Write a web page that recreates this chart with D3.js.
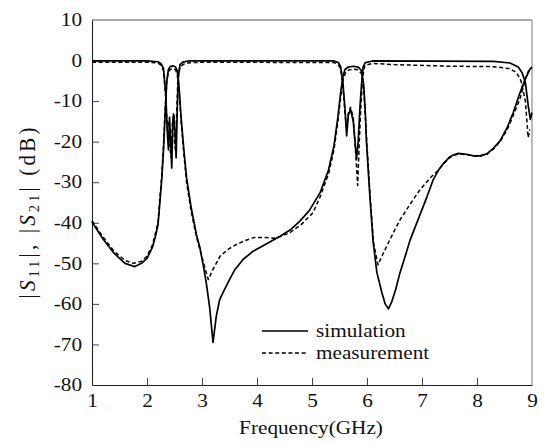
<!DOCTYPE html>
<html><head><meta charset="utf-8">
<script src="https://cdn.jsdelivr.net/npm/d3@7"></script>
<style>
html,body{margin:0;padding:0;background:#fff;}
svg{display:block;}
text{font-family:"Liberation Serif","Times New Roman",Times,serif;fill:#111;}
</style></head>
<body>
<svg id="chart" width="546" height="445"></svg>
<script>
// ---- data (frequency GHz, dB) ----
const xTicks = [1,2,3,4,5,6,7,8,9];
const yTicks = [10,0,-10,-20,-30,-40,-50,-60,-70,-80];
const seriesNames = ["simulation","measurement"];

const s11Sim = [[1.0,-39.8],[1.2,-44],[1.4,-47.5],[1.6,-50],[1.78,-50.8],[1.9,-50],[2.0,-48.8],[2.1,-46],[2.15,-43.5],[2.2,-40.5],[2.24,-34],[2.27,-29],[2.3,-22],[2.33,-13],[2.36,-5],[2.39,-2.2],[2.42,-1.5],[2.47,-1.3],[2.52,-1.6],[2.55,-2.5],[2.58,-6],[2.62,-14],[2.67,-22],[2.72,-29],[2.8,-36],[2.9,-43],[2.96,-46],[3.03,-51],[3.08,-55],[3.14,-61],[3.2,-69.5],[3.26,-63],[3.32,-59],[3.39,-57],[3.5,-54],[3.6,-51.5],[3.75,-49],[3.93,-47],[4.2,-45],[4.42,-43.3],[4.6,-41.8],[4.78,-39.6],[4.95,-37],[5.15,-32.5],[5.3,-27],[5.4,-21],[5.47,-14],[5.52,-8],[5.56,-4],[5.6,-2.2],[5.66,-1.6],[5.75,-1.4],[5.84,-1.6],[5.9,-2.5],[5.94,-6],[5.97,-13],[5.99,-20],[6.05,-33],[6.11,-44.5],[6.18,-52.3],[6.27,-57.2],[6.33,-60],[6.39,-61.2],[6.45,-59.5],[6.52,-56.5],[6.6,-52.3],[6.7,-48],[6.78,-44.4],[6.9,-40.2],[7.09,-33.6],[7.2,-29.5],[7.3,-27],[7.39,-25.4],[7.5,-23.8],[7.57,-23.3],[7.66,-22.9],[7.81,-23.1],[7.94,-23.5],[8.05,-23.5],[8.18,-23.0],[8.3,-21.6],[8.42,-19.8],[8.55,-16.5],[8.66,-12.8],[8.78,-8],[8.88,-4.5],[8.96,-2.2],[9.0,-1.7]];

const s11Meas = [[1.0,-39.5],[1.2,-43.5],[1.4,-47],[1.6,-49.3],[1.75,-50],[1.9,-49.5],[2.0,-48.2],[2.1,-45.5],[2.2,-40],[2.24,-33],[2.27,-28],[2.3,-21],[2.33,-12],[2.36,-5],[2.39,-2.8],[2.42,-2.2],[2.47,-2.0],[2.52,-2.3],[2.55,-3.5],[2.58,-7],[2.62,-15],[2.67,-23],[2.72,-30],[2.8,-37],[2.9,-43.5],[2.98,-47.5],[3.05,-51],[3.115,-54],[3.2,-51.5],[3.33,-48.2],[3.48,-46.5],[3.63,-45.3],[3.8,-44.3],[3.96,-43.6],[4.15,-43.6],[4.3,-43.8],[4.45,-43.3],[4.6,-42.4],[4.8,-40.5],[5.02,-37.5],[5.15,-33.5],[5.3,-28],[5.4,-22],[5.47,-15],[5.53,-8],[5.57,-4.5],[5.61,-3],[5.67,-2.3],[5.75,-2.1],[5.84,-2.3],[5.9,-3.2],[5.94,-7],[5.97,-14],[6.0,-21],[6.06,-34],[6.12,-45],[6.2,-50.4],[6.3,-47.4],[6.48,-42.4],[6.6,-39.3],[6.78,-35.5],[6.96,-31.9],[7.15,-28.9],[7.3,-27],[7.4,-25.3],[7.5,-24],[7.57,-23.4],[7.66,-23.0],[7.81,-23.2],[7.94,-23.6],[8.05,-23.6],[8.18,-23.1],[8.3,-21.8],[8.42,-20],[8.55,-17],[8.66,-13.5],[8.78,-9.5],[8.9,-3.5],[8.96,-2],[9.0,-1.6]];

const s21Sim = [[1.0,-0.1],[2.0,-0.1],[2.2,-0.3],[2.26,-0.8],[2.3,-2],[2.34,-8],[2.37,-18],[2.39,-22],[2.41,-14],[2.43,-20],[2.45,-26.5],[2.47,-15],[2.49,-13.5],[2.51,-18],[2.53,-24],[2.55,-12],[2.57,-4],[2.6,-1],[2.65,-0.4],[2.75,-0.1],[5.4,-0.1],[5.48,-0.5],[5.52,-1.5],[5.56,-5],[5.6,-12],[5.63,-18.6],[5.66,-13.5],[5.7,-12],[5.75,-15],[5.81,-24.3],[5.84,-20],[5.87,-12],[5.9,-6],[5.93,-1.5],[5.97,-0.5],[6.1,-0.1],[8.3,-0.2],[8.6,-0.6],[8.75,-1.6],[8.82,-3],[8.88,-5.5],[8.93,-11],[8.97,-14.5],[9.0,-12.8]];

const s21Meas = [[1.0,-0.4],[2.0,-0.4],[2.2,-0.6],[2.26,-1.2],[2.3,-2.5],[2.34,-9],[2.37,-17],[2.4,-15],[2.42,-22],[2.44,-24],[2.46,-16],[2.48,-13],[2.5,-20],[2.52,-22.5],[2.54,-13],[2.56,-5],[2.6,-1.5],[2.7,-0.6],[3.0,-0.4],[5.4,-0.5],[5.47,-0.9],[5.52,-2],[5.56,-6],[5.6,-13],[5.63,-17],[5.66,-13],[5.7,-11.5],[5.75,-14],[5.8,-24],[5.83,-30.8],[5.86,-20],[5.89,-11],[5.92,-4],[5.96,-1.2],[6.1,-0.7],[6.5,-1.0],[7.5,-1.4],[8.3,-1.5],[8.6,-2],[8.72,-3],[8.8,-5],[8.88,-10],[8.93,-19],[8.96,-17]];

// ---- layout ----
const svg = d3.select("#chart");
const L = 92, R = 532, T = 20, B = 385;
const SX = 1.18, FS = 18;
const FONT = '"Liberation Serif","Times New Roman",Times,serif';
const x = d3.scaleLinear().domain([1,9]).range([L,R]);
const y = d3.scaleLinear().domain([-80,10]).range([B,T]);

// frame
svg.append("line").attr("x1",L).attr("x2",R).attr("y1",T).attr("y2",T).attr("stroke","#555").attr("stroke-width",1);
svg.append("line").attr("x1",R).attr("x2",R).attr("y1",T).attr("y2",B).attr("stroke","#aaa").attr("stroke-width",1.6);

function stretchTicks(g){
  g.selectAll(".tick text").each(function(){
    const t = d3.select(this);
    const xv = +t.attr("x") || 0;
    t.attr("x", xv/SX).attr("transform", `scale(${SX},1)`);
  });
}

const fmt = d => String(d);
const gx = svg.append("g").attr("transform",`translate(0,${B})`)
  .call(d3.axisBottom(x).tickValues(xTicks).tickFormat(fmt).tickSizeInner(-7).tickSizeOuter(0).tickPadding(9));
const gy = svg.append("g").attr("transform",`translate(${L},0)`)
  .call(d3.axisLeft(y).tickValues(yTicks).tickFormat(fmt).tickSizeInner(-7).tickSizeOuter(0).tickPadding(10));
[gx,gy].forEach(g=>{
  g.attr("font-family",FONT).attr("font-size",FS);
  g.select(".domain").attr("stroke","#222").attr("stroke-width",1.1);
  g.selectAll(".tick line").attr("stroke","#444").attr("stroke-width",1);
  g.selectAll(".tick text").attr("fill","#111");
  stretchTicks(g);
});
gx.selectAll(".tick line").filter(d=>d===1||d===9).remove();
gy.selectAll(".tick line").filter(d=>d===-80||d===10).remove();

// curves
const line = d3.line().x(d=>x(d[0])).y(d=>y(d[1]));
const solidStyle = {w:1.7, dash:null};
const dashStyle = {w:1.5, dash:"4,2.6"};
function draw(data, st){
  svg.append("path").attr("d",line(data)).attr("fill","none").attr("stroke","#000")
    .attr("stroke-width",st.w).attr("stroke-linejoin","round")
    .attr("stroke-dasharray",st.dash);
}
draw(s11Meas, dashStyle);
draw(s21Meas, dashStyle);
draw(s11Sim, solidStyle);
draw(s21Sim, solidStyle);

// legend
const legY = [331, 353];
seriesNames.forEach((n,i)=>{
  const st = i===0 ? solidStyle : dashStyle;
  svg.append("line").attr("x1",262).attr("x2",308).attr("y1",legY[i]).attr("y2",legY[i])
    .attr("stroke","#000").attr("stroke-width",st.w).attr("stroke-dasharray",st.dash);
  svg.append("text").attr("transform",`translate(316,${legY[i]+6}) scale(${SX},1)`)
    .attr("font-size",FS).text(n);
});

// axis titles
svg.append("text").attr("transform",`translate(311,434) scale(${SX},1)`)
  .attr("text-anchor","middle").attr("font-size",FS).text("Frequency(GHz)");

const yt = svg.append("text").attr("transform",`translate(35,213) rotate(-90) scale(1,1.05)`)
  .attr("text-anchor","middle").attr("font-size",21)
  .attr("textLength",171).attr("lengthAdjust","spacing");
yt.append("tspan").text("|");
yt.append("tspan").attr("font-style","italic").text("S");
yt.append("tspan").attr("font-size",14).attr("dy",4).text("11");
yt.append("tspan").attr("dy",-4).text("|,  |");
yt.append("tspan").attr("font-style","italic").text("S");
yt.append("tspan").attr("font-size",14).attr("dy",4).text("21");
yt.append("tspan").attr("dy",-4).text("| (dB)");
</script>
</body></html>
